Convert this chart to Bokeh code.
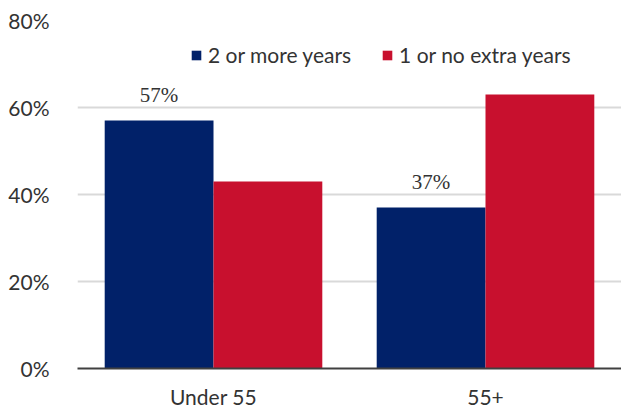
from bokeh.plotting import figure
from bokeh.models import ColumnDataSource, LabelSet, Legend, LegendItem, FactorRange, FixedTicker, CustomJSTickFormatter
from bokeh.transform import dodge
from bokeh.embed import file_html
from bokeh.resources import INLINE

categories = ["Under 55", "55+"]
series_names = ["2 or more years", "1 or no extra years"]
two_or_more = [57, 37]
one_or_none = [43, 63]
label_text = ["57%", "37%"]
y_ticks = [0, 20, 40, 60, 80]

FONT = "Lato"
FS = "21px"
TXT = "#333333"
BLUE = "#012169"
RED = "#C8102E"

src = ColumnDataSource(dict(cat=categories, a=two_or_more, b=one_or_none, lab=label_text))

p = figure(x_range=FactorRange(*categories, range_padding=0), y_range=(0, 80),
           width=621, height=411, output_backend="svg", toolbar_location=None,
           min_border_left=77, min_border_right=0, min_border_top=20, min_border_bottom=43)
p.outline_line_color = None
p.background_fill_color = "white"
p.border_fill_color = "white"

ra = p.vbar(x=dodge("cat", -0.2, range=p.x_range), top="a", width=0.4, bottom=0,
            source=src, fill_color=BLUE, line_color=None)
rb = p.vbar(x=dodge("cat", 0.2, range=p.x_range), top="b", width=0.4, bottom=0,
            source=src, fill_color=RED, line_color=None)

labels = LabelSet(x=dodge("cat", -0.2, range=p.x_range), y="a", text="lab", source=src,
                  y_offset=14, text_align="center", text_baseline="bottom",
                  text_font=FONT, text_font_size=FS, text_color=TXT)
p.add_layout(labels)

p.yaxis.ticker = FixedTicker(ticks=y_ticks)
p.yaxis.formatter = CustomJSTickFormatter(code="return tick + '%'")
p.yaxis.axis_line_color = None
p.yaxis.major_tick_line_color = None
p.yaxis.minor_tick_line_color = None
p.yaxis.major_label_standoff = 22
p.yaxis.major_label_text_font = FONT
p.yaxis.major_label_text_font_size = FS
p.yaxis.major_label_text_color = TXT

p.xaxis.axis_line_color = "#404040"
p.xaxis.axis_line_width = 2
p.xaxis.major_tick_line_color = None
p.xaxis.minor_tick_line_color = None
p.xaxis.major_label_standoff = 9
p.xaxis.major_label_text_font = FONT
p.xaxis.major_label_text_font_size = FS
p.xaxis.major_label_text_color = TXT

p.xgrid.grid_line_color = None
p.ygrid.grid_line_color = "#d9d9d9"
p.ygrid.grid_line_width = 2

legend = Legend(items=[LegendItem(label=series_names[0], renderers=[ra]),
                       LegendItem(label=series_names[1], renderers=[rb])],
                location=(113, 301), orientation="horizontal",
                glyph_width=12, glyph_height=12, label_standoff=6, spacing=30,
                padding=0, margin=0, border_line_color=None, background_fill_alpha=0,
                label_text_font=FONT, label_text_font_size=FS, label_text_color=TXT)
p.add_layout(legend)

open("out.html", "w").write(file_html(p, INLINE))
